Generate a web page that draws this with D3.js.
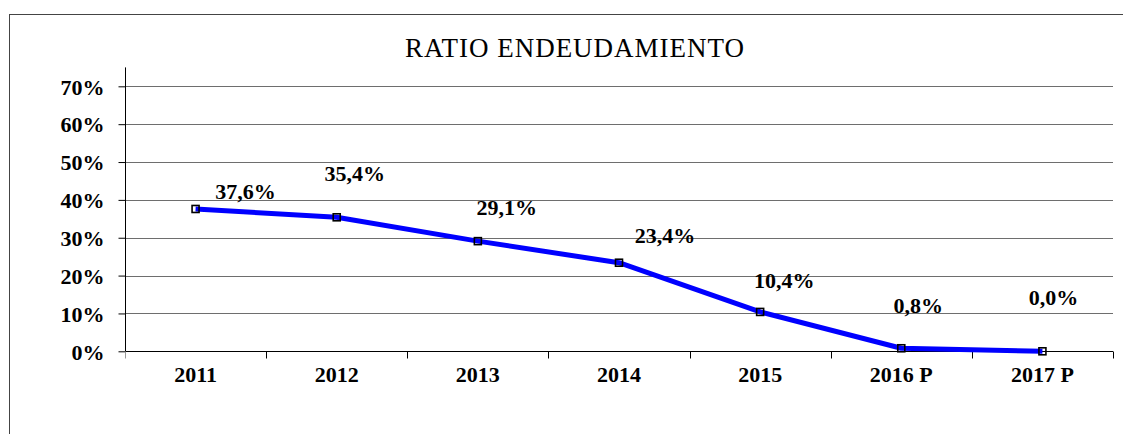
<!DOCTYPE html>
<html>
<head>
<meta charset="utf-8">
<script src="https://cdn.jsdelivr.net/npm/d3@7"></script>
<style>
  html, body { margin: 0; padding: 0; background: #fff; }
  svg { display: block; font-family: "Liberation Serif", "Times New Roman", serif; }
</style>
</head>
<body>
<svg id="chart"></svg>
<script>
"use strict";

// =================== DATA ===================
const years = ["2011", "2012", "2013", "2014", "2015", "2016 P", "2017 P"];
const ratio = [0.376, 0.354, 0.291, 0.234, 0.104, 0.008, 0.000];
const labels = ["37,6%", "35,4%", "29,1%", "23,4%", "10,4%", "0,8%", "0,0%"];
const yTicks = [0, 0.1, 0.2, 0.3, 0.4, 0.5, 0.6, 0.7];
const yTickLabels = ["0%", "10%", "20%", "30%", "40%", "50%", "60%", "70%"];

// label nudges (hand placed in original chart), px from point
const labelNudge = [[50, -10], [18, -36], [29, -26], [46, -20], [24, -24], [17, -35], [11, -46]];

// =================== SETUP ===================
const W = 1123, H = 434;
const plot = { left: 125, right: 1113, top: 67.4, bottom: 351.3 };

const svg = d3.select("#chart").attr("width", W).attr("height", H);

// outer frame (cut at right/bottom edge like the original)
svg.append("rect")
  .attr("x", 9.5).attr("y", 14.5)
  .attr("width", 1300).attr("height", 600)
  .attr("fill", "none").attr("stroke", "#444").attr("stroke-width", 1);

// =================== SCALES ===================
const x = d3.scaleBand().domain(years).range([plot.left, plot.right]).padding(0);
const y = d3.scaleLinear().domain([0, 0.75]).range([plot.bottom, plot.top]);

// grid lines
svg.append("g")
  .selectAll("line")
  .data(yTicks.filter(d => d > 0))
  .join("line")
  .attr("x1", plot.left).attr("x2", plot.right)
  .attr("y1", d => Math.round(y(d)) + 0.5).attr("y2", d => Math.round(y(d)) + 0.5)
  .attr("stroke", "#6e6e6e").attr("stroke-width", 1);

// =================== AXES ===================
const yAxis = d3.axisLeft(y)
  .tickValues(yTicks)
  .tickFormat((d, i) => yTickLabels[i])
  .tickSize(7)
  .tickPadding(14);

const gy = svg.append("g")
  .attr("transform", `translate(${plot.left + 0.5},0)`)
  .call(yAxis);
gy.select(".domain").attr("d", `M0,${plot.top}V${plot.bottom}`).attr("stroke", "#000");
gy.selectAll(".tick line").attr("stroke", "#000");
gy.selectAll(".tick text")
  .attr("dy", "0.35em")
  .style("font-family", "Liberation Serif")
  .style("font-size", "22px").style("font-weight", "700").attr("fill", "#000");

const xAxis = d3.axisBottom(x).tickSize(0).tickPadding(28);
const gx = svg.append("g")
  .attr("transform", `translate(0,${Math.round(plot.bottom) + 0.5})`)
  .call(xAxis);
gx.select(".domain").attr("d", `M${plot.left},0H${plot.right}`).attr("stroke", "#000");
gx.selectAll(".tick text")
  .attr("dy", "0.1em")
  .style("font-family", "Liberation Serif")
  .style("font-size", "22px").style("font-weight", "700").attr("fill", "#000");

// boundary tick marks between categories
const bounds = years.map(d => x(d)).concat([x(years[years.length - 1]) + x.bandwidth()]);
gx.append("g")
  .selectAll("line")
  .data(bounds)
  .join("line")
  .attr("x1", d => Math.round(d) + 0.5).attr("x2", d => Math.round(d) + 0.5)
  .attr("y1", 0).attr("y2", 7)
  .attr("stroke", (d, i) => i === 0 ? "#999" : "#000");

// =================== LINE ===================
const pts = years.map((yr, i) => ({ yr, v: ratio[i], label: labels[i], nudge: labelNudge[i] }));
const cx = d => x(d.yr) + x.bandwidth() / 2;

svg.append("path")
  .datum(pts)
  .attr("fill", "none")
  .attr("stroke", "#0000ff")
  .attr("stroke-width", 5)
  .attr("stroke-linejoin", "round")
  .attr("d", d3.line().x(cx).y(d => y(d.v)));

svg.append("g")
  .selectAll("rect")
  .data(pts)
  .join("rect")
  .attr("x", d => cx(d) - 3.5).attr("y", d => y(d.v) - 3.5)
  .attr("width", 7).attr("height", 7)
  .attr("fill", "none").attr("stroke", "#000").attr("stroke-width", 1.6);

// data labels
svg.append("g")
  .selectAll("text")
  .data(pts)
  .join("text")
  .attr("x", d => cx(d) + d.nudge[0])
  .attr("y", d => y(d.v) + d.nudge[1])
  .attr("text-anchor", "middle")
  .style("font-size", "22px").style("font-weight", "700")
  .text(d => d.label);

// =================== TITLE ===================
svg.append("text")
  .attr("x", 575).attr("y", 57)
  .attr("text-anchor", "middle")
  .style("font-size", "27px")
  .style("letter-spacing", "1px")
  .text("RATIO ENDEUDAMIENTO");
</script>
</body>
</html>
